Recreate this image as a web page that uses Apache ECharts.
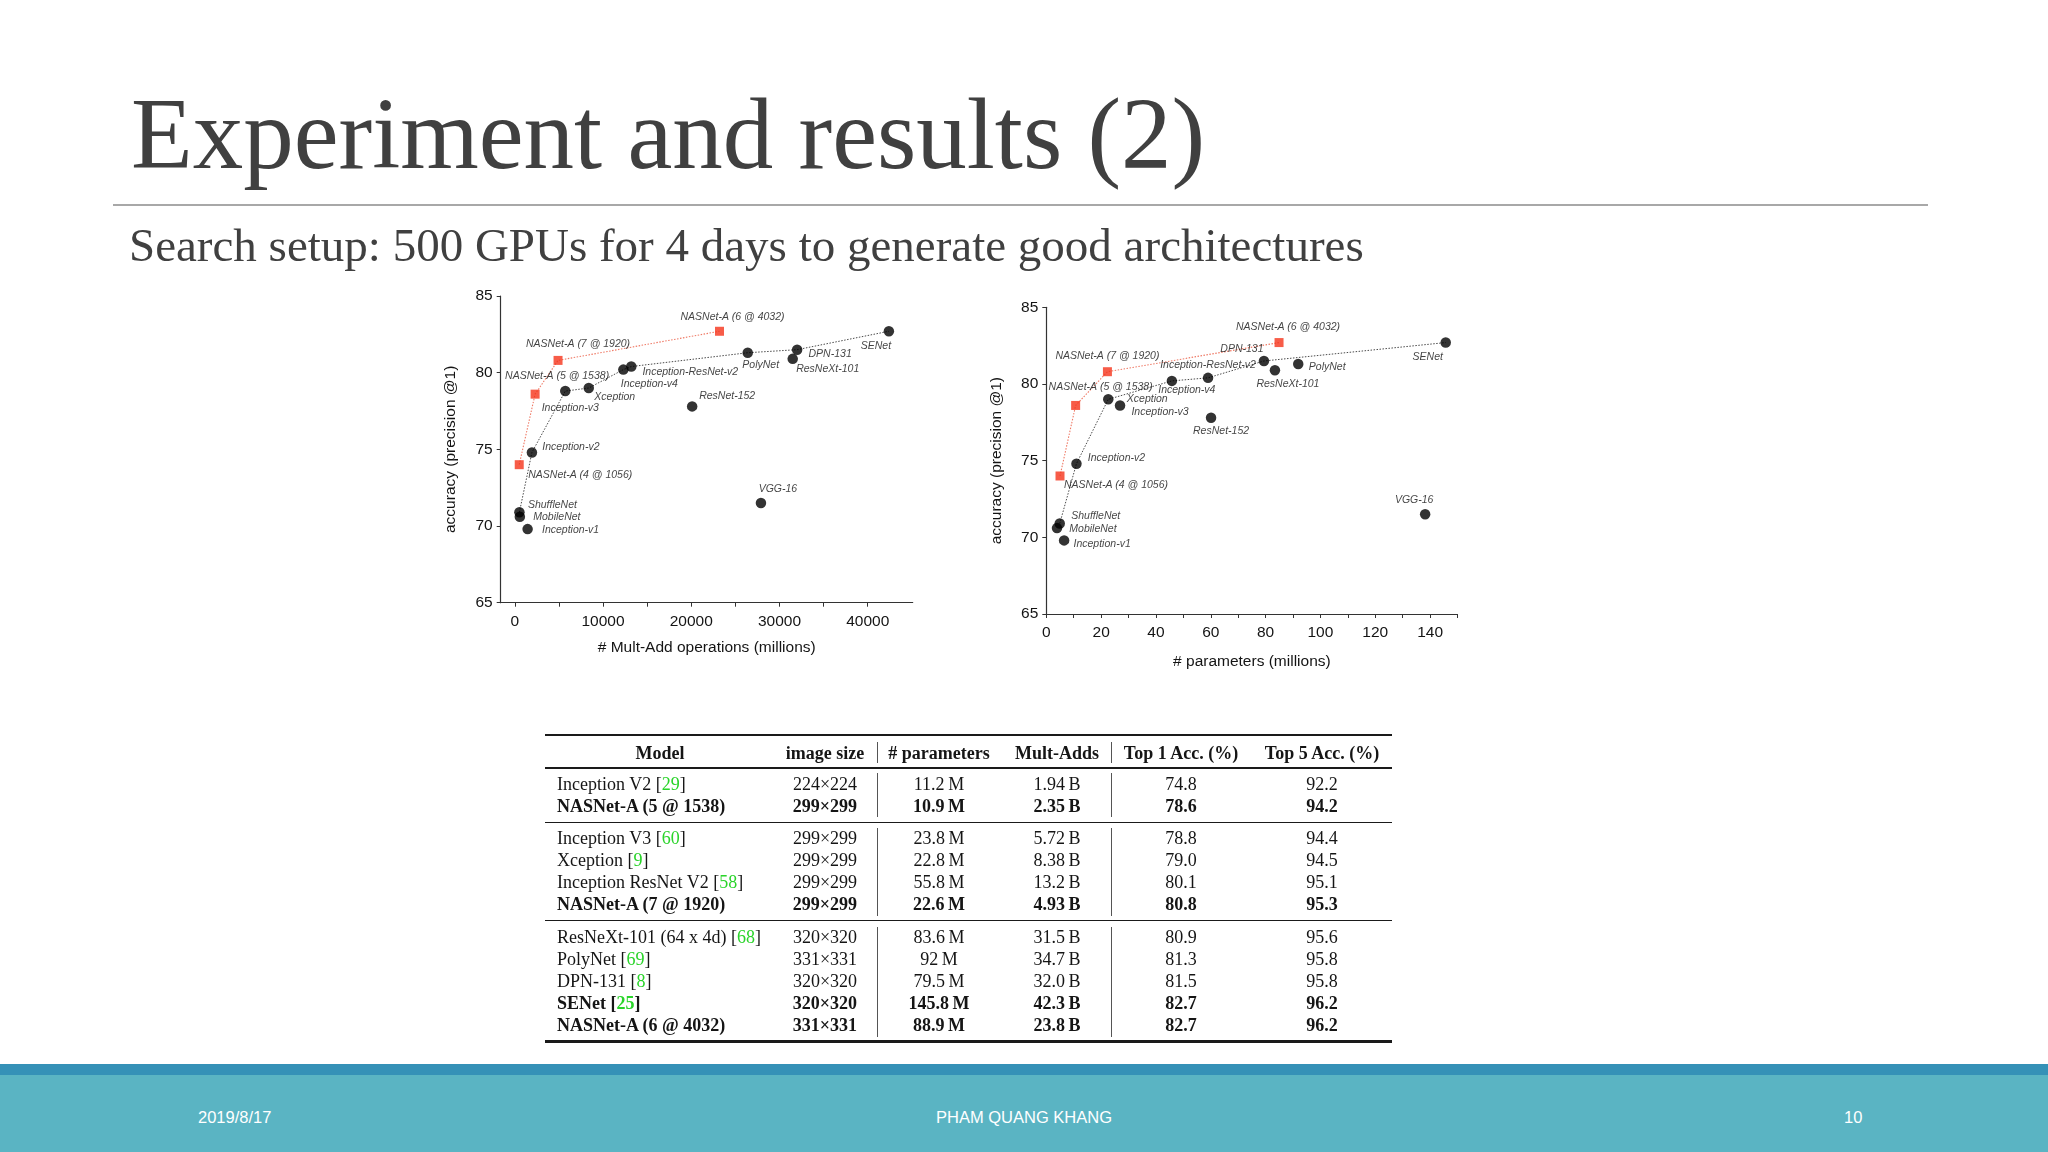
<!DOCTYPE html>
<html>
<head>
<meta charset="utf-8">
<script src="https://cdn.jsdelivr.net/npm/echarts@6/dist/echarts.min.js"></script>
<style>
  html, body { margin: 0; padding: 0; width: 2048px; height: 1152px; background: #fff; overflow: hidden; }
  #chart { position: absolute; left: 0; top: 0; width: 2048px; height: 1152px; }
  .txt { position: absolute; white-space: nowrap; line-height: 1; }
  .serif { font-family: "Liberation Serif", "DejaVu Serif", serif; color: #404040; }
  .cell { position: absolute; white-space: nowrap; height: 22px; line-height: 22px;
          font-family: "Liberation Serif", serif; font-size: 18px; color: #151515; }
  .ref { color: #2ad42a; }
  .hr { position: absolute; background: #1a1a1a; }
  .foot { position: absolute; top: 1107px; font-family: "Liberation Sans", Arial, sans-serif;
          font-size: 16.5px; color: #fff; line-height: 20px; white-space: nowrap; }
</style>
</head>
<body>
<div id="chart"></div>

<div class="txt serif" style="left:131px; top:84px; font-size:101px;">Experiment and results (2)</div>
<div style="position:absolute; left:113px; top:204px; width:1815px; height:2px; background:#a8a8a8;"></div>
<div class="txt serif" style="left:129px; top:222px; font-size:47px;">Search setup: 500 GPUs for 4 days to generate good architectures</div>

<div id="table"></div>

<div style="position:absolute; left:0; top:1064px; width:2048px; height:11px; background:#3591b7;"></div>
<div style="position:absolute; left:0; top:1075px; width:2048px; height:77px; background:#5ab4c3;"></div>
<div class="foot" style="left:198px;">2019/8/17</div>
<div class="foot" style="left:924px; width:200px; text-align:center;">PHAM QUANG KHANG</div>
<div class="foot" style="left:1844px;">10</div>

<script>
// ---- scatter data ----
const modelNames = ['ShuffleNet', 'MobileNet', 'Inception-v1', 'Inception-v2', 'Inception-v3', 'Xception',
  'Inception-v4', 'Inception-ResNet-v2', 'ResNet-152', 'PolyNet', 'DPN-131', 'ResNeXt-101', 'SENet', 'VGG-16'];
const multAdds    = [520, 570, 1450, 1940, 5720, 8380, 12300, 13200, 20100, 26400, 32000, 31500, 42400, 27900];
const accMultAdds = [70.9, 70.6, 69.8, 74.8, 78.8, 79.0, 80.2, 80.4, 77.8, 81.3, 81.5, 80.9, 82.7, 71.5];
const paramsM     = [4.9, 3.9, 6.5, 11.0, 26.9, 22.6, 45.8, 59.0, 60.1, 91.9, 79.4, 83.4, 145.7, 138.2];
const accParams   = [70.9, 70.6, 69.8, 74.8, 78.6, 79.0, 80.2, 80.4, 77.8, 81.3, 81.5, 80.9, 82.7, 71.5];

const nasNames    = ['NASNet-A (4 @ 1056)', 'NASNet-A (5 @ 1538)', 'NASNet-A (7 @ 1920)', 'NASNet-A (6 @ 4032)'];
const nasMultAdds = [500, 2300, 4900, 23200];
const nasParams   = [5.0, 10.7, 22.3, 84.9];
const nasAcc      = [74.0, 78.6, 80.8, 82.7];

// dotted frontier through the black points
const frontierMultAdds = ['ShuffleNet', 'Inception-v2', 'Inception-v3', 'Xception', 'Inception-v4',
  'Inception-ResNet-v2', 'PolyNet', 'DPN-131', 'SENet'];
const frontierParams = ['ShuffleNet', 'Inception-v2', 'Xception', 'Inception-v4',
  'Inception-ResNet-v2', 'DPN-131', 'SENet'];

// axis ticks
const accTicks = [65, 70, 75, 80, 85];
const multAddTicks  = [0, 5000, 10000, 15000, 20000, 25000, 30000, 35000, 40000];
const multAddLabels = [0, 10000, 20000, 30000, 40000];
const paramTicks  = [0, 10, 20, 30, 40, 50, 60, 70, 80, 90, 100, 110, 120, 130, 140, 150];
const paramLabels = [0, 20, 40, 60, 80, 100, 120, 140];

// ---- table ----
const tableModels = ['Inception V2', 'NASNet-A (5 @ 1538)', 'Inception V3', 'Xception', 'Inception ResNet V2',
  'NASNet-A (7 @ 1920)', 'ResNeXt-101 (64 x 4d)', 'PolyNet', 'DPN-131', 'SENet', 'NASNet-A (6 @ 4032)'];
const tableRefs = ['29', '', '60', '9', '58', '', '68', '69', '8', '25', ''];
const tableImageSize = ['224×224', '299×299', '299×299', '299×299', '299×299', '299×299',
  '320×320', '331×331', '320×320', '320×320', '331×331'];
const tableParams = ['11.2 M', '10.9 M', '23.8 M', '22.8 M', '55.8 M', '22.6 M', '83.6 M', '92 M', '79.5 M', '145.8 M', '88.9 M'];
const tableMultAdds = ['1.94 B', '2.35 B', '5.72 B', '8.38 B', '13.2 B', '4.93 B', '31.5 B', '34.7 B', '32.0 B', '42.3 B', '23.8 B'];
const tableTop1 = ['74.8', '78.6', '78.8', '79.0', '80.1', '80.8', '80.9', '81.3', '81.5', '82.7', '82.7'];
const tableTop5 = ['92.2', '94.2', '94.4', '94.5', '95.1', '95.3', '95.6', '95.8', '95.8', '96.2', '96.2'];
const tableBold = [false, true, false, false, false, true, false, false, false, true, true];
const tableHeader = ['Model', 'image size', '# parameters', 'Mult-Adds', 'Top 1 Acc. (%)', 'Top 5 Acc. (%)'];

// label placement (offset of label centre from the marker)
const offsLeft = {
  'ShuffleNet': [33, -7], 'MobileNet': [37, 0], 'Inception-v1': [43, 1], 'Inception-v2': [39, -5],
  'Inception-v3': [5, 17], 'Xception': [26, 9], 'Inception-v4': [26, 14], 'Inception-ResNet-v2': [59, 6],
  'ResNet-152': [35, -10], 'PolyNet': [13, 12], 'DPN-131': [33, 4], 'ResNeXt-101': [35, 10],
  'SENet': [-13, 15], 'VGG-16': [17, -14],
  'NASNet-A (4 @ 1056)': [61, 10], 'NASNet-A (5 @ 1538)': [22, -18],
  'NASNet-A (7 @ 1920)': [20, -16], 'NASNet-A (6 @ 4032)': [13, -14]
};
const offsRight = {
  'ShuffleNet': [36, -7], 'MobileNet': [36, 1], 'Inception-v1': [38, 4], 'Inception-v2': [40, -6],
  'Inception-v3': [40, 7], 'Xception': [39, 0], 'Inception-v4': [15, 9], 'Inception-ResNet-v2': [0, -13],
  'ResNet-152': [10, 13], 'PolyNet': [29, 3], 'DPN-131': [-22, -12], 'ResNeXt-101': [13, 14],
  'SENet': [-18, 15], 'VGG-16': [-11, -14],
  'NASNet-A (4 @ 1056)': [56, 9], 'NASNet-A (5 @ 1538)': [25, -18],
  'NASNet-A (7 @ 1920)': [0, -16], 'NASNet-A (6 @ 4032)': [9, -15]
};

const FONT = '"Liberation Sans", Arial, sans-serif';
const INK = '#141414';

function pts(names, xs, ys, offs) {
  return names.map((n, i) => ({ name: n, value: [xs[i], ys[i]], label: { offset: offs[n] } }));
}
function path(list, xs, ys) {
  return list.map(n => { const i = modelNames.indexOf(n); return [xs[i], ys[i]]; });
}

function xAx(grid, min, max, ticks, labels, name, gap) {
  return {
    type: 'value', gridIndex: grid, min: min, max: max,
    name: name, nameLocation: 'middle', nameGap: gap,
    nameTextStyle: { fontFamily: FONT, fontSize: 15.5, color: INK },
    axisLine: { show: true, onZero: false, lineStyle: { color: '#333', width: 1.2 } },
    axisTick: { show: true, length: 4, customValues: ticks, lineStyle: { color: '#333' } },
    axisLabel: { customValues: labels, margin: 11, fontFamily: FONT, fontSize: 15.5, color: INK,
                 formatter: v => String(v) },
    splitLine: { show: false }
  };
}
function yAx(grid) {
  return {
    type: 'value', gridIndex: grid, min: 65, max: 85,
    name: 'accuracy (precision @1)', nameLocation: 'middle', nameGap: 42,
    nameTextStyle: { fontFamily: FONT, fontSize: 15.5, color: INK },
    axisLine: { show: true, onZero: false, lineStyle: { color: '#333', width: 1.2 } },
    axisTick: { show: true, length: 4, customValues: accTicks, lineStyle: { color: '#333' } },
    axisLabel: { customValues: accTicks, margin: 8, fontFamily: FONT, fontSize: 15.5, color: INK },
    splitLine: { show: false }
  };
}

const labelStyle = {
  show: true, position: 'inside', formatter: '{b}',
  fontFamily: FONT, fontStyle: 'italic', fontSize: 10.5, color: '#111'
};

function seriesFor(i, xs, ys, nasXs, frontier, offs) {
  return [
    { type: 'line', xAxisIndex: i, yAxisIndex: i, data: path(frontier, xs, ys), symbol: 'none',
      lineStyle: { color: '#4a4a4a', width: 1, type: [1.5, 1.5] }, z: 1, silent: true },
    { type: 'line', xAxisIndex: i, yAxisIndex: i, data: nasXs.map((x, k) => [x, nasAcc[k]]), symbol: 'none',
      lineStyle: { color: '#ef7a66', width: 1.1, type: [1.5, 1.5] }, z: 1, silent: true },
    { type: 'scatter', xAxisIndex: i, yAxisIndex: i, data: pts(modelNames, xs, ys, offs),
      symbol: 'circle', symbolSize: 10.5, itemStyle: { color: '#000' }, label: labelStyle, z: 3 },
    { type: 'scatter', xAxisIndex: i, yAxisIndex: i, data: pts(nasNames, nasXs, nasAcc, offs),
      symbol: 'rect', symbolSize: 9, itemStyle: { color: '#f5331a' }, label: labelStyle, z: 3 }
  ];
}

const chart = echarts.init(document.getElementById('chart'));
chart.setOption({
  animation: false,
  grid: [
    { left: 500.7, top: 296, width: 412, height: 306.7 },
    { left: 1046.3, top: 307.3, width: 411.2, height: 306.7 }
  ],
  xAxis: [
    xAx(0, -1600, 45100, multAddTicks, multAddLabels, '# Mult-Add operations (millions)', 37),
    xAx(1, 0, 150, paramTicks, paramLabels, '# parameters (millions)', 40)
  ],
  yAxis: [yAx(0), yAx(1)],
  series: [].concat(
    seriesFor(0, multAdds, accMultAdds, nasMultAdds, frontierMultAdds, offsLeft),
    seriesFor(1, paramsM, accParams, nasParams, frontierParams, offsRight)
  )
});

// ---- build the table ----
(function () {
  const host = document.getElementById('table');
  const colCenters = [null, 825, 939, 1057, 1181, 1322];
  const modelLeft = 557;
  function cell(html, x, y, bold, left) {
    const d = document.createElement('div');
    d.className = 'cell';
    d.innerHTML = html;
    d.style.top = (y - 11) + 'px';
    if (bold) d.style.fontWeight = 'bold';
    if (left) { d.style.left = x + 'px'; }
    else { d.style.left = (x - 100) + 'px'; d.style.width = '200px'; d.style.textAlign = 'center'; }
    host.appendChild(d);
  }
  function hline(y, h) {
    const d = document.createElement('div');
    d.className = 'hr';
    d.style.left = '545px'; d.style.width = '847px';
    d.style.top = (y - h / 2) + 'px'; d.style.height = h + 'px';
    host.appendChild(d);
  }
  function vline(x, y0, y1) {
    const d = document.createElement('div');
    d.className = 'hr';
    d.style.background = '#555';
    d.style.left = x + 'px'; d.style.width = '1px';
    d.style.top = y0 + 'px'; d.style.height = (y1 - y0) + 'px';
    host.appendChild(d);
  }
  // header
  cell(tableHeader[0], 660, 752.7, true, false);
  for (let c = 1; c < 6; c++) cell(tableHeader[c], colCenters[c], 752.7, true, false);
  const rowY = [784, 806, 838, 860, 882, 904, 936.7, 958.7, 980.7, 1002.7, 1024.7];
  tableModels.forEach((m, i) => {
    const b = tableBold[i];
    const ref = tableRefs[i] ? ' [<span class="ref">' + tableRefs[i] + '</span>]' : '';
    cell(m + ref, modelLeft, rowY[i], b, true);
    cell(tableImageSize[i], colCenters[1], rowY[i], b, false);
    cell(tableParams[i].replace(' ', '&thinsp;'), colCenters[2], rowY[i], b, false);
    cell(tableMultAdds[i].replace(' ', '&thinsp;'), colCenters[3], rowY[i], b, false);
    cell(tableTop1[i], colCenters[4], rowY[i], b, false);
    cell(tableTop5[i], colCenters[5], rowY[i], b, false);
  });
  hline(735, 2.6);
  hline(767.7, 2.2);
  hline(822.3, 1.6);
  hline(920.7, 1.6);
  hline(1041.7, 2.8);
  [[742, 763], [773, 817], [828, 916], [927, 1037]].forEach(s => {
    vline(877, s[0], s[1]);
    vline(1111, s[0], s[1]);
  });
})();
</script>
</body>
</html>
